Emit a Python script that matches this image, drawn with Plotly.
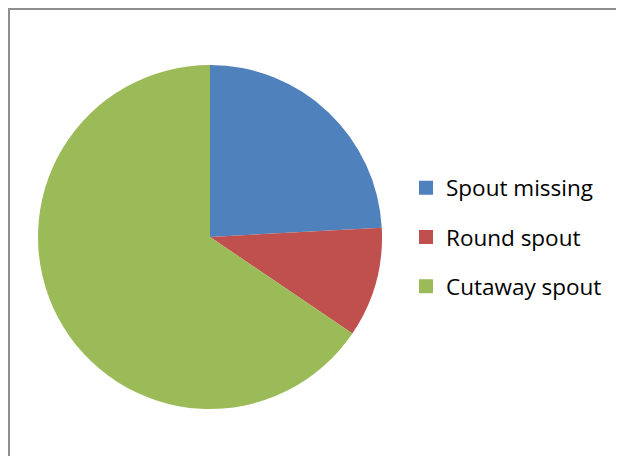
import plotly.graph_objects as go

# Data
labels = ["Spout missing", "Round spout", "Cutaway spout"]
values = [7, 3, 19]
colors = ["#4F81BD", "#C0504D", "#9BBB59"]

# page body adds an 8px margin, so the figure is drawn 16px smaller
W, H = 608, 448

fig = go.Figure()

# Pie (legend drawn with dummy traces so the spacing can match)
fig.add_trace(go.Pie(
    labels=labels, values=values, sort=False, direction="clockwise", rotation=0,
    marker=dict(colors=colors, line=dict(width=0)),
    textinfo="none", hoverinfo="label+value+percent", showlegend=False,
    domain=dict(x=[30 / W, 374 / W], y=[47 / H, 391 / H]),
))

for lab, col in zip(labels, colors):
    fig.add_trace(go.Scatter(
        x=[None], y=[None], mode="markers", name=lab, legendgroup=lab,
        marker=dict(symbol="square", size=14, color=col),
    ))

fig.update_layout(
    width=W, height=H,
    margin=dict(l=0, r=0, t=0, b=0),
    paper_bgcolor="white", plot_bgcolor="white",
    font=dict(family="Open Sans, sans-serif", size=22.5, color="#000000"),
    xaxis=dict(visible=False), yaxis=dict(visible=False),
    legend=dict(x=398 / W, xanchor="left", y=(H - 229) / H, yanchor="middle",
                traceorder="grouped", tracegroupgap=17, bgcolor="rgba(0,0,0,0)",
                itemclick=False),
    # chart frame: only the left and top edges fall inside the picture
    shapes=[dict(type="path", xref="paper", yref="paper",
                 path=f"M {1 / W},0 L {1 / W},{(H - 1) / H} L 1,{(H - 1) / H}",
                 line=dict(color="#8E8E8E", width=2))],
)

fig.write_html("out.html")
